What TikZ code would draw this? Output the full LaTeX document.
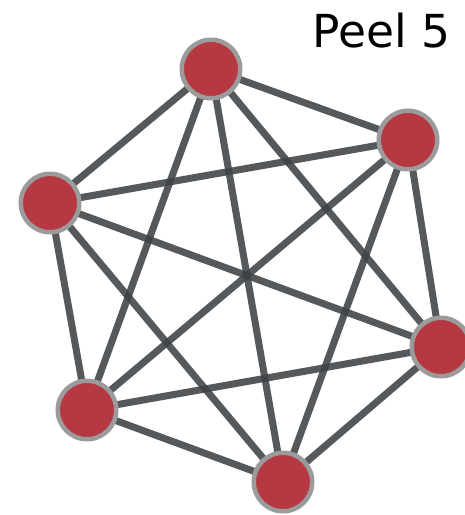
\documentclass[tikz,border=0pt]{standalone}
\usepackage{fontspec}
\setmainfont{DejaVu Sans}
\definecolor{vertexred}{RGB}{181,56,66}
\definecolor{vertexring}{RGB}{155,155,155}
\definecolor{edgegray}{RGB}{62,66,70}
\tikzset{
  vertex/.style={circle, fill=vertexred, draw=vertexring, line width=4.5pt,
                 minimum size=58.5pt, inner sep=0pt},
  edge/.style={draw=edgegray, line width=7pt, opacity=0.88},
  caption/.style={font=\fontsize{45.5}{46}\selectfont, anchor=base west, inner sep=0pt}
}
\begin{document}
\begin{tikzpicture}[x=1pt,y=-1pt]
  \useasboundingbox (0,0) rectangle (465,515);
  % vertices of the complete graph K6
  \coordinate (t)  at (211,69);
  \coordinate (ur) at (408,140);
  \coordinate (l)  at (50,203);
  \coordinate (r)  at (441,347);
  \coordinate (bl) at (87,410);
  \coordinate (b)  at (283,482);
  % every pair joined
  \foreach \u/\v in {t/ur,t/l,t/r,t/bl,t/b,ur/l,ur/r,ur/bl,ur/b,l/r,l/bl,l/b,r/bl,r/b,bl/b}
    \draw[edge] (\u) -- (\v);
  \foreach \p in {t,ur,l,r,bl,b}
    \node[vertex] (n\p) at (\p) {};
  \node[caption] (title) at (312,47.5) {Peel 5};
\end{tikzpicture}
\end{document}
